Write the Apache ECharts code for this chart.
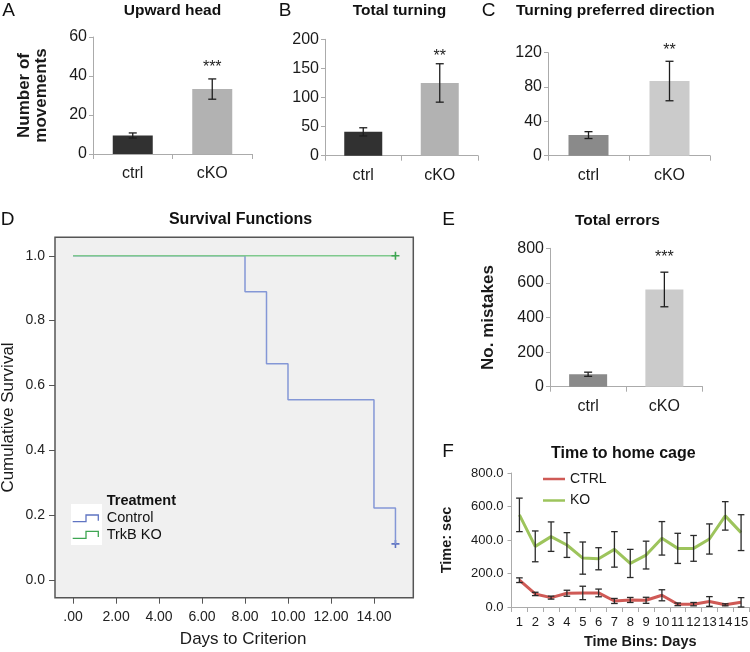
<!DOCTYPE html>
<html><head><meta charset="utf-8">
<script src="https://cdn.jsdelivr.net/npm/echarts@6/dist/echarts.min.js"></script>
<style>html,body{margin:0;padding:0;background:#fff}#c{width:750px;height:652px}</style>
</head><body><div id="c"></div>
<script>
// ---------- DATA ----------
const barCategories = ['ctrl', 'cKO'];
const upwardHeadMean = [9.5, 33.3];
const upwardHeadErr = [1.3, 5.2];
const upwardHeadSig = ['', '***'];
const totalTurningMean = [41, 125];
const totalTurningErr = [7, 33];
const totalTurningSig = ['', '**'];
const preferredDirMean = [24, 87];
const preferredDirErr = [4, 23];
const preferredDirSig = ['', '**'];
const totalErrorsMean = [72, 562];
const totalErrorsErr = [12, 100];
const totalErrorsSig = ['', '***'];

const controlDays = [0, 8, 9, 10, 14, 15];
const controlSurvival = [1.0, 0.889, 0.667, 0.556, 0.222, 0.111];
const koDays = [0, 15];
const koSurvival = [1.0, 1.0];
const controlCensoredDay = [15];
const controlCensoredSurv = [0.111];
const koCensoredDay = [15];
const koCensoredSurv = [1.0];
const survivalXTicks = [0, 2, 4, 6, 8, 10, 12, 14];
const survivalYTicks = [0, 0.2, 0.4, 0.6, 0.8, 1.0];

const timeBins = ['1','2','3','4','5','6','7','8','9','10','11','12','13','14','15'];
const ctrlTime = [160, 78, 56, 82, 84, 84, 36, 42, 40, 70, 16, 17, 33, 13, 28];
const ctrlTimeErr = [14, 10, 9, 18, 40, 23, 15, 15, 18, 33, 8, 10, 29, 6, 28];
const koTime = [550, 362, 420, 370, 292, 288, 344, 260, 310, 410, 350, 350, 406, 544, 444];
const koTimeErr = [100, 92, 88, 74, 96, 66, 106, 84, 83, 100, 90, 77, 90, 85, 107];

// ---------- STYLE ----------
const FF = '"Liberation Sans", Arial, Helvetica, sans-serif';
const AX = '#ababab';
const TXT = '#1a1a1a';

function errRender(capHalf, color, width, sig, starOffset) {
  return function (params, api) {
    const x = api.value(0), v = api.value(1), e = api.value(2);
    const t = api.coord([x, v + e]);
    const b = api.coord([x, v - e]);
    const st = { stroke: color, lineWidth: width };
    const ch = [
      { type: 'line', shape: { x1: t[0], y1: t[1], x2: b[0], y2: b[1] }, style: st },
      { type: 'line', shape: { x1: t[0] - capHalf, y1: t[1], x2: t[0] + capHalf, y2: t[1] }, style: st },
      { type: 'line', shape: { x1: b[0] - capHalf, y1: b[1], x2: b[0] + capHalf, y2: b[1] }, style: st }
    ];
    if (sig && sig[params.dataIndex]) {
      ch.push({ type: 'text', x: t[0], y: t[1] - starOffset,
        style: { text: sig[params.dataIndex], font: '16px ' + FF, fill: '#222',
          align: 'center', verticalAlign: 'middle', textAlign: 'center', textVerticalAlign: 'middle' } });
    }
    return { type: 'group', children: ch };
  };
}

const grids = [
  { left: 93, top: 37, width: 159, height: 117 },
  { left: 325, top: 39.3, width: 153, height: 116.4 },
  { left: 548, top: 52.7, width: 162, height: 103 },
  { left: 55, top: 237.3, width: 358.3, height: 360.4, show: true, backgroundColor: '#f0f0f0', borderColor: '#555', borderWidth: 1.5 },
  { left: 550, top: 248.3, width: 152.5, height: 138.4 },
  { left: 511.5, top: 473, width: 237.5, height: 134 }
].map(g => Object.assign({ containLabel: false, outerBoundsMode: 'none' }, g));

function barX(idx) {
  return { gridIndex: idx, type: 'category', data: barCategories, boundaryGap: true,
    axisLine: { show: true, lineStyle: { color: AX, width: 1 } },
    axisTick: { show: true, length: 5, lineStyle: { color: AX } },
    axisLabel: { fontSize: 16, fontFamily: FF, color: TXT, margin: 12 },
    splitLine: { show: false } };
}
function barY(idx, max, interval, name, nameGap) {
  return { gridIndex: idx, type: 'value', min: 0, max: max, interval: interval,
    name: name, nameLocation: 'middle', nameGap: nameGap, nameRotate: 90, nameMoveOverlap: false,
    nameTextStyle: { fontSize: 17, fontWeight: 'bold', fontFamily: FF, color: TXT, lineHeight: 17 },
    axisLine: { show: true, lineStyle: { color: AX, width: 1 } },
    axisTick: { show: true, length: 4, lineStyle: { color: AX } },
    axisLabel: { fontSize: 16, fontFamily: FF, color: TXT, margin: 6 },
    splitLine: { show: false } };
}

function barSeries(idx, mean, colors, bw) {
  return { type: 'bar', xAxisIndex: idx, yAxisIndex: idx, barWidth: bw,
    data: mean.map((v, i) => ({ value: v, itemStyle: { color: colors[i] } })), silent: true };
}
function errSeries(idx, mean, err, sig, off, cap) {
  return { type: 'custom', xAxisIndex: idx, yAxisIndex: idx, z: 5, silent: true,
    renderItem: errRender(cap, '#1e1e1e', 1.3, sig, off),
    data: mean.map((v, i) => [i, v, err[i]]) };
}

const xAxes = [
  barX(0), barX(1), barX(2),
  { gridIndex: 3, type: 'value', min: -0.84, max: 15.83,
    name: 'Days to Criterion', nameLocation: 'middle', nameGap: 33,
    nameTextStyle: { fontSize: 17, fontFamily: FF, color: TXT, padding: [0, 0, 0, 18] },
    axisLine: { show: false, onZero: false },
    axisTick: { show: true, length: 6, customValues: survivalXTicks, lineStyle: { color: '#555' } },
    axisLabel: { fontSize: 14, fontFamily: FF, color: '#222', margin: 12, customValues: survivalXTicks,
      formatter: v => (v === 0 ? '.00' : v.toFixed(2)) },
    splitLine: { show: false } },
  barX(4),
  { gridIndex: 5, type: 'category', data: timeBins, boundaryGap: true,
    name: 'Time Bins: Days', nameLocation: 'middle', nameGap: 27,
    nameTextStyle: { fontSize: 14.5, fontWeight: 'bold', fontFamily: FF, color: TXT, padding: [0, 0, 0, 20] },
    axisLine: { show: true, lineStyle: { color: AX } },
    axisTick: { show: true, length: 5, lineStyle: { color: AX } },
    axisLabel: { fontSize: 13, fontFamily: FF, color: TXT, margin: 9, interval: 0 },
    splitLine: { show: false } }
];

const yAxes = [
  barY(0, 60, 20, 'Number of\nmovements', 43),
  barY(1, 200, 50, '', 0),
  barY(2, 120, 40, '', 0),
  { gridIndex: 3, type: 'value', min: -0.055, max: 1.057,
    name: 'Cumulative Survival', nameLocation: 'middle', nameGap: 38, nameRotate: 90, nameMoveOverlap: false,
    nameTextStyle: { fontSize: 17, fontFamily: FF, color: TXT },
    axisLine: { show: false, onZero: false },
    axisTick: { show: true, length: 6, customValues: survivalYTicks, lineStyle: { color: '#555' } },
    axisLabel: { fontSize: 14, fontFamily: FF, color: '#222', margin: 10, customValues: survivalYTicks,
      formatter: v => v.toFixed(1) },
    splitLine: { show: false } },
  barY(4, 800, 200, 'No. mistakes', 53),
  { gridIndex: 5, type: 'value', min: 0, max: 800, interval: 200,
    name: 'Time: sec', nameLocation: 'middle', nameGap: 57, nameRotate: 90, nameMoveOverlap: false,
    nameTextStyle: { fontSize: 14.5, fontWeight: 'bold', fontFamily: FF, color: TXT },
    axisLine: { show: true, lineStyle: { color: AX } },
    axisTick: { show: true, length: 4, lineStyle: { color: AX } },
    axisLabel: { fontSize: 13, fontFamily: FF, color: TXT, margin: 8, formatter: v => v.toFixed(1) },
    splitLine: { show: false } }
];

const BLUE = '#8497d6', BLUE_D = '#5f74c2';
const GREEN = '#7fc98d', GREEN_D = '#3ea552';
const RED = '#cf5a56', LGREEN = '#9dc45c';
const plusPath = 'path://M4,0h2v4h4v2h-4v4h-2v-4h-4v-2h4z';

const series = [
  barSeries(0, upwardHeadMean, ['#313131', '#b2b2b2'], 40),
  errSeries(0, upwardHeadMean, upwardHeadErr, upwardHeadSig, 11, 4),
  barSeries(1, totalTurningMean, ['#313131', '#b2b2b2'], 38),
  errSeries(1, totalTurningMean, totalTurningErr, totalTurningSig, 7, 4),
  barSeries(2, preferredDirMean, ['#8a8a8a', '#cbcbcb'], 40),
  errSeries(2, preferredDirMean, preferredDirErr, preferredDirSig, 11, 4),
  { name: 'Control', type: 'line', xAxisIndex: 3, yAxisIndex: 3, step: 'end', symbol: 'none', silent: true,
    lineStyle: { color: BLUE, width: 1.5 }, data: controlDays.map((d, i) => [d, controlSurvival[i]]) },
  { name: 'TrkB KO', type: 'line', xAxisIndex: 3, yAxisIndex: 3, step: 'end', symbol: 'none', silent: true, z: 3,
    lineStyle: { color: GREEN, width: 1.5 }, data: koDays.map((d, i) => [d, koSurvival[i]]) },
  { type: 'scatter', xAxisIndex: 3, yAxisIndex: 3, symbol: plusPath, symbolSize: 8, silent: true,
    itemStyle: { color: BLUE_D, opacity: 1 }, data: controlCensoredDay.map((d, i) => [d, controlCensoredSurv[i]]) },
  { type: 'scatter', xAxisIndex: 3, yAxisIndex: 3, symbol: plusPath, symbolSize: 8, silent: true, z: 4,
    itemStyle: { color: GREEN_D, opacity: 1 }, data: koCensoredDay.map((d, i) => [d, koCensoredSurv[i]]) },
  barSeries(4, totalErrorsMean, ['#8a8a8a', '#cbcbcb'], 38),
  errSeries(4, totalErrorsMean, totalErrorsErr, totalErrorsSig, 15, 4),
  { name: 'CTRL', type: 'line', xAxisIndex: 5, yAxisIndex: 5, symbol: 'none', silent: true,
    lineStyle: { color: RED, width: 3 }, itemStyle: { color: RED }, data: ctrlTime },
  { name: 'KO', type: 'line', xAxisIndex: 5, yAxisIndex: 5, symbol: 'none', silent: true,
    lineStyle: { color: LGREEN, width: 3 }, itemStyle: { color: LGREEN }, data: koTime },
  { type: 'custom', xAxisIndex: 5, yAxisIndex: 5, z: 6, silent: true,
    renderItem: errRender(3.3, '#2a2a2a', 1.3, null, 0), data: ctrlTime.map((v, i) => [i, v, ctrlTimeErr[i]]) },
  { type: 'custom', xAxisIndex: 5, yAxisIndex: 5, z: 6, silent: true,
    renderItem: errRender(3.3, '#2a2a2a', 1.3, null, 0), data: koTime.map((v, i) => [i, v, koTimeErr[i]]) }
];

function txt(x, y, s, font, fill) {
  return { type: 'text', x: x, y: y, silent: true,
    style: { text: s, font: font, fill: fill || '#111', align: 'center', verticalAlign: 'middle',
      textAlign: 'center', textVerticalAlign: 'middle' } };
}
function ltxt(x, y, s, font) {
  return { type: 'text', x: x, y: y, silent: true,
    style: { text: s, font: font, fill: '#111', align: 'left', verticalAlign: 'middle',
      textAlign: 'left', textVerticalAlign: 'middle' } };
}
const LET = '19px ' + FF;
const TTL = 'bold 15.5px ' + FF;
const graphic = [
  txt(8.5, 11, 'A', LET), txt(285, 11, 'B', LET), txt(488.5, 11, 'C', LET),
  txt(7.5, 220, 'D', LET), txt(448.5, 220, 'E', LET), txt(448, 452, 'F', LET),
  txt(172.5, 11, 'Upward head', TTL), txt(399.5, 11, 'Total turning', TTL),
  txt(615.3, 10.5, 'Turning preferred direction', TTL),
  txt(240.5, 220, 'Survival Functions', 'bold 16px ' + FF),
  txt(617.5, 220.5, 'Total errors', TTL),
  txt(623.3, 454, 'Time to home cage', 'bold 16px ' + FF),
  // legend for D
  { type: 'rect', shape: { x: 71, y: 504, width: 31, height: 41 }, style: { fill: '#ffffff' }, silent: true, z: 10 },
  { type: 'polyline', z: 11, silent: true, shape: { points: [[72.7, 521.7], [86, 521.7], [86, 515], [98.3, 515], [98.3, 520.7]] },
    style: { stroke: BLUE_D, lineWidth: 1.3, fill: null } },
  { type: 'polyline', z: 11, silent: true, shape: { points: [[72.7, 538.3], [86, 538.3], [86, 531.3], [98.3, 531.3], [98.3, 537]] },
    style: { stroke: GREEN_D, lineWidth: 1.3, fill: null } },
  ltxt(106.7, 500.5, 'Treatment', 'bold 14.5px ' + FF),
  ltxt(106.7, 518, 'Control', '14.5px ' + FF),
  ltxt(106.7, 535.3, 'TrkB KO', '14.5px ' + FF)
];

const chart = echarts.init(document.getElementById('c'), null, { renderer: 'canvas' });
chart.setOption({
  animation: false,
  backgroundColor: '#ffffff',
  textStyle: { fontFamily: FF },
  grid: grids,
  xAxis: xAxes,
  yAxis: yAxes,
  legend: { data: [{ name: 'CTRL', icon: 'rect' }, { name: 'KO', icon: 'rect' }],
    orient: 'vertical', left: 538, top: 466, itemWidth: 22, itemHeight: 2.5,
    itemGap: 5.5, selectedMode: false, textStyle: { fontSize: 14, fontFamily: FF, color: TXT, lineHeight: 16 } },
  series: series,
  graphic: graphic
});
</script></body></html>
